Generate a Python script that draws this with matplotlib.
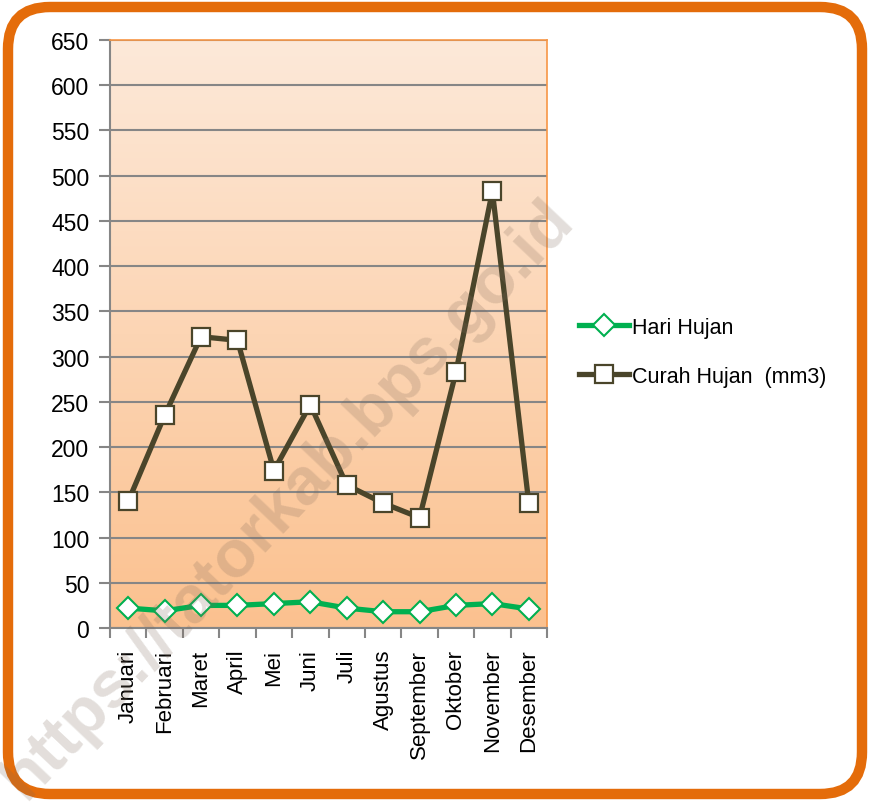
import matplotlib.pyplot as plt
import numpy as np
from matplotlib.patches import FancyBboxPatch

months = ["Januari", "Februari", "Maret", "April", "Mei", "Juni", "Juli",
          "Agustus", "September", "Oktober", "November", "Desember"]
hari_hujan = [22, 19, 25, 25, 27, 29, 22, 18, 18, 25, 27, 21]
curah_hujan = [140, 235, 322, 318, 174, 247, 158, 138, 122, 283, 483, 138]
y_ticks = list(range(0, 651, 50))

plt.rcParams["font.family"] = ["Liberation Sans", "DejaVu Sans"]

fig = plt.figure(figsize=(8.7, 8.03), dpi=100)
ax = fig.add_axes([110 / 870, 1 - 629 / 803, 437 / 870, 588 / 803])

x = np.arange(len(months))
ax.set_xlim(-0.5, len(months) - 0.5)
ax.set_ylim(0, 650)

# gradient background
grad = np.linspace(0, 1, 256).reshape(-1, 1)
top = np.array([0xFD, 0xE9, 0xD9]) / 255
bot = np.array([0xFB, 0xC1, 0x8F]) / 255
img = top + (bot - top) * grad[:, :, None]
ax.imshow(img, extent=(-0.5, len(months) - 0.5, 0, 650), origin="upper",
          aspect="auto", zorder=0)

ax.set_yticks(y_ticks)
ax.yaxis.grid(True, color="#868686", linewidth=1.5, zorder=1)
ax.set_axisbelow(True)
ax.set_xticks(np.arange(-0.5, len(months), 1))
ax.set_xticklabels([])
ax.set_xticks(x, minor=True)
ax.set_xticklabels(months, minor=True, rotation=90, fontsize=16)
ax.tick_params(axis="x", which="minor", length=0, pad=15)
ax.tick_params(axis="x", which="major", length=7, width=1.5, color="#868686")
ax.tick_params(axis="y", length=8, width=1.5, color="#868686", labelsize=16.5, pad=7)

for s in ["left", "bottom"]:
    ax.spines[s].set_color("#868686")
    ax.spines[s].set_linewidth(1.5)
for s in ["top", "right"]:
    ax.spines[s].set_color("#F79646")
    ax.spines[s].set_linewidth(1.2)

ax.plot(x, hari_hujan, color="#00B050", linewidth=3.8, marker="D",
        markersize=11, markerfacecolor="white", markeredgecolor="#00B050",
        markeredgewidth=1.5, label="Hari Hujan", zorder=3)
ax.plot(x, curah_hujan, color="#4A452A", linewidth=3.8, marker="s",
        markersize=13.5, markerfacecolor="white", markeredgecolor="#4A452A",
        markeredgewidth=1.6, label="Curah Hujan  (mm3)", zorder=4)

ax.legend(loc="center left", bbox_to_anchor=(1.03, 0.47), frameon=False,
          fontsize=15.5, handlelength=2.3, handletextpad=0.15, labelspacing=1.3)

# outer frame and watermark
over = fig.add_axes([0, 0, 1, 1], facecolor="none")
over.set_xlim(0, 870)
over.set_ylim(803, 0)
over.axis("off")
over.add_patch(FancyBboxPatch((8, 8), 854, 787,
                              boxstyle="round,pad=0,rounding_size=42",
                              fill=False, edgecolor="#E46C0A", linewidth=7.5))
over.text(288, 500, "https://tatorkab.bps.go.id", rotation=46.5, fontsize=48,
          fontweight="bold", color="#7F6A5A", alpha=0.22,
          ha="center", va="center")

fig.savefig("out.png", dpi=100)
